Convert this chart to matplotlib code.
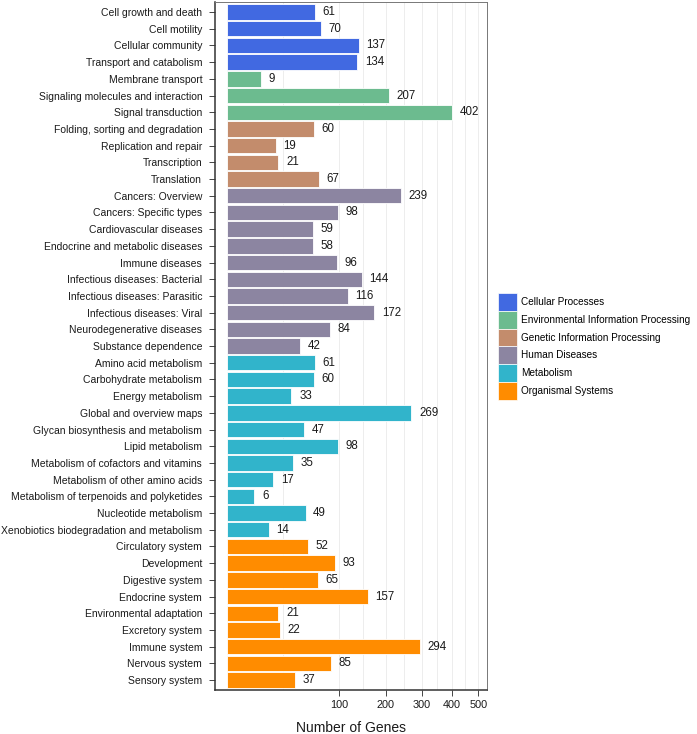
import numpy as np
import matplotlib
matplotlib.use("Agg")
import matplotlib.pyplot as plt
from matplotlib.patches import Patch

plt.rcParams['font.family'] = ['Liberation Sans', 'DejaVu Sans']

groups = ["Cellular Processes", "Environmental Information Processing",
          "Genetic Information Processing", "Human Diseases", "Metabolism",
          "Organismal Systems"]
group_colors = ["#4169E1", "#6CBB8F", "#C38C6C", "#8C85A1", "#31B4CB", "#FF8C00"]

cellular = ["Cell growth and death", "Cell motility", "Cellular community",
            "Transport and catabolism"]
cellular_vals = [61, 70, 137, 134]
environmental = ["Membrane transport", "Signaling molecules and interaction",
                 "Signal transduction"]
environmental_vals = [9, 207, 402]
genetic = ["Folding, sorting and degradation", "Replication and repair",
           "Transcription", "Translation"]
genetic_vals = [60, 19, 21, 67]
human = ["Cancers: Overview", "Cancers: Specific types", "Cardiovascular diseases",
         "Endocrine and metabolic diseases", "Immune diseases",
         "Infectious diseases: Bacterial", "Infectious diseases: Parasitic",
         "Infectious diseases: Viral", "Neurodegenerative diseases",
         "Substance dependence"]
human_vals = [239, 98, 59, 58, 96, 144, 116, 172, 84, 42]
metabolism = ["Amino acid metabolism", "Carbohydrate metabolism", "Energy metabolism",
              "Global and overview maps", "Glycan biosynthesis and metabolism",
              "Lipid metabolism", "Metabolism of cofactors and vitamins",
              "Metabolism of other amino acids",
              "Metabolism of terpenoids and polyketides", "Nucleotide metabolism",
              "Xenobiotics biodegradation and metabolism"]
metabolism_vals = [61, 60, 33, 269, 47, 98, 35, 17, 6, 49, 14]
organismal = ["Circulatory system", "Development", "Digestive system",
              "Endocrine system", "Environmental adaptation", "Excretory system",
              "Immune system", "Nervous system", "Sensory system"]
organismal_vals = [52, 93, 65, 157, 21, 22, 294, 85, 37]

x_ticks = [100, 200, 300, 400, 500]

all_labels, all_vals, all_colors = [], [], []
for labs, vals, col in zip([cellular, environmental, genetic, human, metabolism, organismal],
                           [cellular_vals, environmental_vals, genetic_vals, human_vals,
                            metabolism_vals, organismal_vals], group_colors):
    all_labels += labs
    all_vals += vals
    all_colors += [col] * len(labs)

fig = plt.figure(figsize=(6.97, 7.34), dpi=100)
ax = fig.add_axes([0.308, 0.0599, 0.3903, 0.9373])

fwd = lambda x: np.sign(x) * np.sqrt(np.abs(x))
inv = lambda y: np.sign(y) * y ** 2
ax.set_xscale('function', functions=(fwd, inv))

y = np.arange(len(all_labels))
ax.barh(y, all_vals, height=0.92, color=all_colors, edgecolor='white',
        linewidth=0.6, zorder=3)
for yi, v in zip(y, all_vals):
    ax.annotate(str(v), (v, yi), xytext=(5.5, 0), textcoords='offset points',
                va='center', ha='left', fontsize=8.3, color='#1a1a1a', zorder=4)

ax.set_xlim(-1.17, 533.6)
ax.set_ylim(len(all_labels) - 0.4, -0.6)
ax.set_yticks(y)
ax.set_yticklabels(all_labels, fontsize=7.45, color='#1a1a1a')
ax.set_xticks(x_ticks)
ax.set_xticklabels([str(t) for t in x_ticks], fontsize=7.8, color='#1a1a1a')
minor = [inv((fwd(a) + fwd(b)) / 2) for a, b in zip([0] + x_ticks[:-1], x_ticks)]
ax.set_xticks(minor, minor=True)
ax.tick_params(axis='x', which='minor', length=0)
ax.tick_params(axis='y', which='major', length=4, width=0.7, color='#444444', pad=5)
ax.tick_params(axis='x', which='major', length=4, width=0.7, color='#444444', pad=3)
ax.grid(axis='x', which='both', color='#EDEDED', linewidth=0.7, zorder=0)
ax.set_axisbelow(True)

for s in ['top', 'right']:
    ax.spines[s].set_color('#777777')
    ax.spines[s].set_linewidth(0.7)
for s in ['left', 'bottom']:
    ax.spines[s].set_color('#333333')
    ax.spines[s].set_linewidth(1.1)

ax.set_xlabel("Number of Genes", fontsize=10, color='#1a1a1a', labelpad=8)

handles = [Patch(facecolor=c, edgecolor='white', linewidth=0.5, label=g)
           for g, c in zip(groups, group_colors)]
fig.legend(handles=handles, loc='upper left', bbox_to_anchor=(0.7145, 0.6005),
           frameon=False, fontsize=7.2, handlelength=1.85, handleheight=2.35,
           handletextpad=0.45, labelspacing=0.0, borderaxespad=0, borderpad=0)

fig.savefig("out.png", dpi=100)
